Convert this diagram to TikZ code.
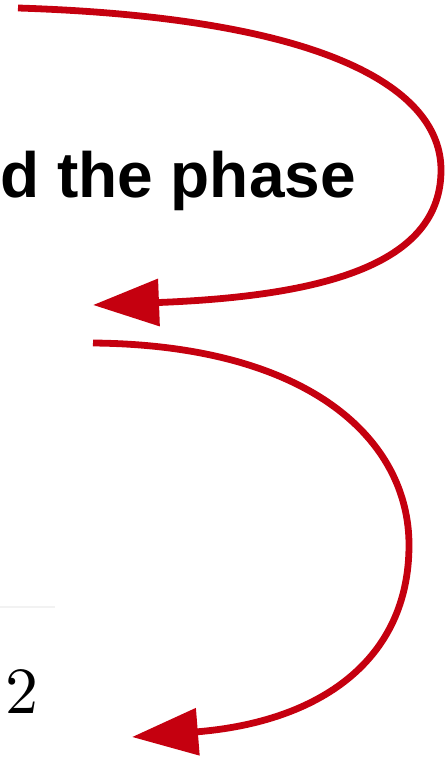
\documentclass[tikz,border=0pt]{standalone}
\usepackage{fontspec}
\newfontfamily\phasesans{Liberation Sans}
\newfontfamily\phasenumfont{lmroman10-regular.otf}
\usetikzlibrary{arrows.meta}
\definecolor{phasered}{HTML}{C5000F}
\begin{document}
\begin{tikzpicture}[
  x=1pt, y=-1pt,
  phasearrow/.style = {phasered, line width=6.8pt,
    -{Triangle[length=66pt, width=46pt]}},
  phaselbl/.style = {inner sep=0pt, anchor=base west,
    font=\phasesans\bfseries\fontsize{64}{64}\selectfont},
  phasenum/.style = {inner sep=0pt, anchor=base west,
    font=\phasenumfont\fontsize{66}{66}\selectfont}
]
  \useasboundingbox (0,0) rectangle (445,757);
  % texts
  \node[phaselbl] (title) at (0,197) {d the phase};
  \node[phasenum] (two) at (5,713) {2};
  % faint rule
  \draw[gray!10, line width=1.5pt] (0,607) -- (55,607);
  % arrow ends
  \coordinate (a1s) at (18,8);
  \coordinate (a1e) at (93,305);
  \coordinate (a2s) at (93,343);
  \coordinate (a2e) at (132,737);
  % arrows
  \draw[phasearrow] (a1s) .. controls (330,18) and (441,90) .. (441,170)
    .. controls (441,262) and (330,296) .. (a1e);
  \draw[phasearrow] (a2s) .. controls (310,345) and (409,440) .. (409,545)
    .. controls (409,660) and (320,722) .. (a2e);
\end{tikzpicture}
\end{document}
